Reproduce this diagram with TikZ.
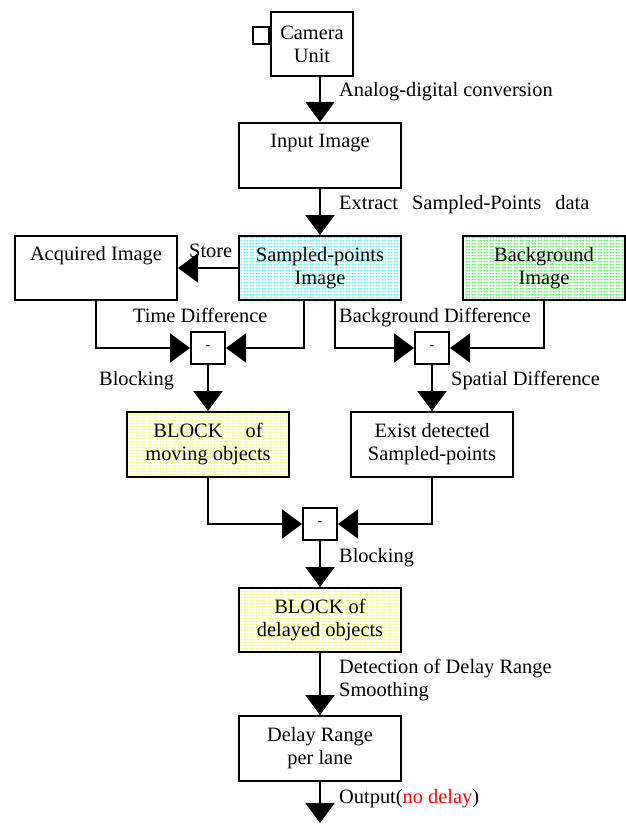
\documentclass[tikz,border=0pt]{standalone}
\usepackage{fontspec}
\setmainfont{Liberation Serif}
\usetikzlibrary{arrows.meta,patterns}
\pgfdeclarepatternformonly{bigdots}{\pgfqpoint{0pt}{0pt}}{\pgfqpoint{3pt}{3pt}}{\pgfqpoint{3pt}{3pt}}{\pgfpathcircle{\pgfqpoint{1.5pt}{1.5pt}}{1.0pt}\pgfusepath{fill}}
\begin{document}
\begin{tikzpicture}[x=1pt,y=-1pt,
  font=\fontsize{20.4pt}{23pt}\selectfont,
  box/.style={draw,line width=2pt,minimum width=162pt,minimum height=65pt,inner sep=0pt,align=center},
  minus/.style={draw,line width=2pt,minimum width=34pt,minimum height=32pt,inner sep=0pt},
  lbl/.style={anchor=base west,inner sep=0pt},
  arr/.style={line width=1.8pt,-{Triangle[length=20pt,width=29pt]}},
  cyandots/.style={pattern=bigdots,pattern color=cyan},
  greendots/.style={pattern=bigdots,pattern color=green},
  yellowdots/.style={pattern=bigdots,pattern color=yellow}]
\useasboundingbox (0,0) rectangle (626,824);
% nodes
\node[box,minimum width=82pt,minimum height=64pt] (cam) at (312,44) {Camera\\Unit};
\node[draw,line width=1.6pt,minimum width=16pt,minimum height=17pt,inner sep=0pt,anchor=east] (camsq) at (cam.west |- 0,35.5) {};
\node[box] (input) at (320,155.5) {Input Image\\\strut};
\node[box,minimum height=64pt,preaction={cyandots}] (sampled) at (320,268) {Sampled-points\\Image};
\node[box,minimum height=64pt] (acq) at (96,268) {Acquired Image\\\strut};
\node[box,minimum height=64pt,preaction={greendots}] (bg) at (544,268) {Background\\Image};
\node[minus] (m1) at (208,348) {\fontsize{14pt}{16pt}\selectfont -};
\node[minus] (m2) at (432,348) {\fontsize{14pt}{16pt}\selectfont -};
\node[box,preaction={yellowdots}] (blkmov) at (208,444.5) {BLOCK\hspace{23pt}of\\moving objects};
\node[box] (exist) at (432,444.5) {Exist detected\\Sampled-points};
\node[minus] (m3) at (320,524) {\fontsize{14pt}{16pt}\selectfont -};
\node[box,minimum height=64pt,preaction={yellowdots}] (blkdel) at (320,620) {BLOCK of\\delayed objects};
\node[box] (delay) at (320,748.5) {Delay Range\\per lane};
\coordinate (out) at (320,823);
% connectors
\draw[arr] (input.north |- cam.south) -- (input.north);
\draw[arr] (input.south) -- (sampled.north);
\draw[arr] (sampled.west) -- (acq.east);
\draw[arr] (acq.south) |- (m1.west);
\draw[arr] ([xshift=-16pt]sampled.south) |- (m1.east);
\draw[arr] ([xshift=15pt]sampled.south) |- (m2.west);
\draw[arr] (bg.south) |- (m2.east);
\draw[arr] (m1.south) -- (blkmov.north);
\draw[arr] (m2.south) -- (exist.north);
\draw[arr] (blkmov.south) |- (m3.west);
\draw[arr] (exist.south) |- (m3.east);
\draw[arr] (m3.south) -- (blkdel.north);
\draw[arr] (blkdel.south) -- (delay.north);
\draw[arr] (delay.south) -- (out);
% labels
\node[lbl] (l1) at (339,97) {Analog-digital conversion};
\node[lbl] (l2) at (339,209) {Extract\hspace{14pt}Sampled-Points\hspace{14pt}data};
\node[lbl] (l3) at (189,257) {Store};
\node[lbl] (l4) at (133,322) {Time Difference};
\node[lbl] (l5) at (99,385) {Blocking};
\node[lbl] (l6) at (339,322) {Background Difference};
\node[lbl] (l7) at (451,385) {Spatial Difference};
\node[lbl] (l8) at (339,562) {Blocking};
\node[lbl] (l9) at (339,673) {Detection of Delay Range};
\node[lbl] (l10) at (339,696) {Smoothing};
\node[lbl] (l11) at (339,803) {Output(\textcolor{red}{no delay})};
\end{tikzpicture}
\end{document}
